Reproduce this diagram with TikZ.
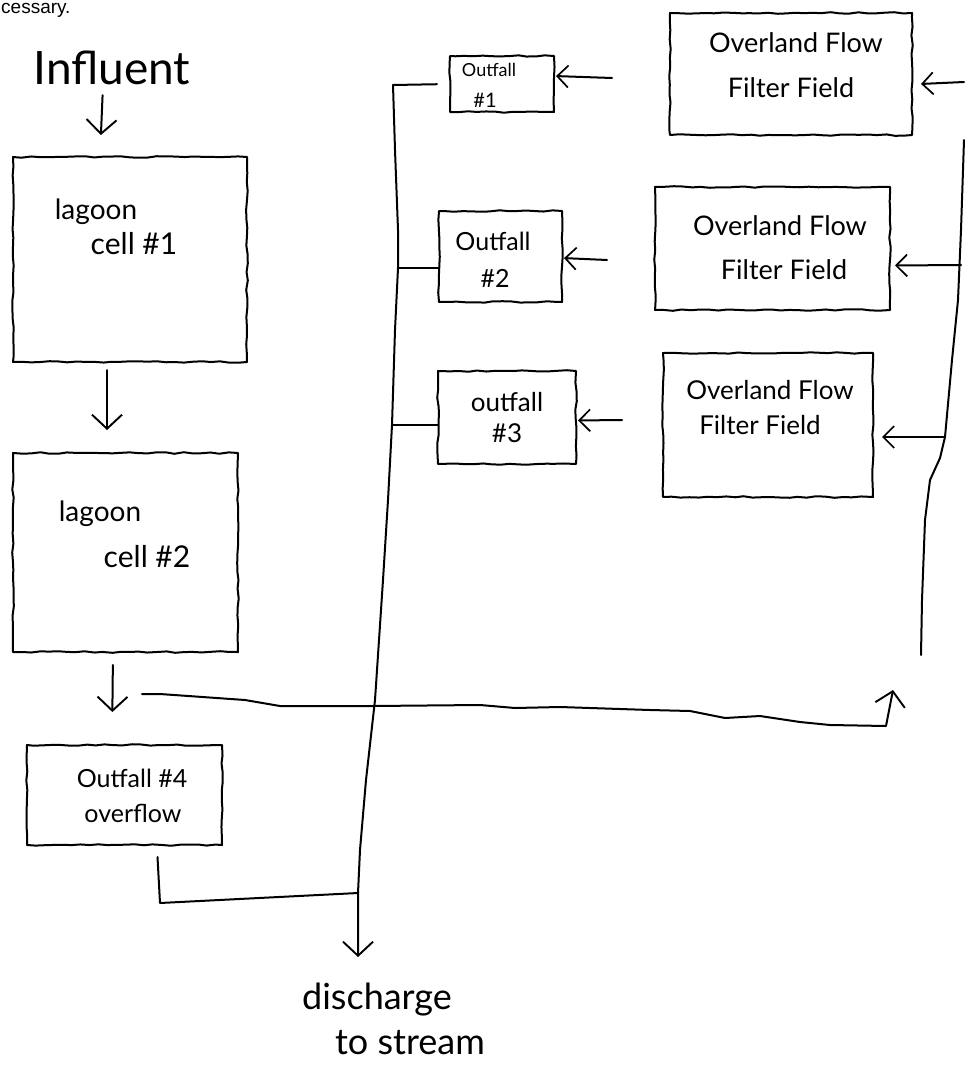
\documentclass[tikz,border=0pt]{standalone}
\usepackage{fontspec}
\setmainfont{Lato}
\setsansfont{Liberation Sans}
\usetikzlibrary{arrows.meta,decorations.pathmorphing}
\newcommand{\fsz}[1]{\fontsize{#1}{#1}\selectfont}
\begin{document}
\begin{tikzpicture}[x=1pt,y=-1pt,
  ink/.style={line width=2pt, line cap=round, line join=round, draw=black},
  box/.style={draw=black, line width=2pt, line join=round, rectangle, inner sep=0pt, outer sep=0pt, decorate, decoration={random steps, segment length=9pt, amplitude=0.8pt}},
  lbl/.style={inner sep=0pt, text=black},
  arr/.style={ink, -{Straight Barb[length=11pt, width=22pt, line width=1.7pt]}},
  bigarr/.style={ink, -{Straight Barb[length=14pt, width=30pt, line width=1.9pt]}},
]
\pgfmathsetseed{7}
\useasboundingbox (0,0) rectangle (964,1065);
\fill[white] (0,0) rectangle (964,1065);

% texts and boxes
\node[lbl, anchor=base west, font=\sffamily\fsz{19}] (cess) at (1,14) {cessary.};
\node[lbl, font=\fsz{46}] (infl) at (112,68) {Influent};

\node[box, minimum width=234pt, minimum height=205pt] (lag1) at (130,259.5) {};
\node[lbl, font=\fsz{28}] (lag1a) at (96,212) {lagoon};
\node[lbl, font=\fsz{30}] (lag1b) at (134,244) {cell \#1};

\node[box, minimum width=225pt, minimum height=199pt] (lag2) at (125.5,552.5) {};
\node[lbl, font=\fsz{28}] (lag2a) at (100,514) {lagoon};
\node[lbl, font=\fsz{30}] (lag2b) at (147,557) {cell \#2};

\node[box, minimum width=195pt, minimum height=100pt] (of4) at (124.5,795) {};
\node[lbl, font=\fsz{25}] (of4a) at (132,778) {Outfall \#4};
\node[lbl, font=\fsz{25}] (of4b) at (133,813) {overflow};

\node[box, minimum width=104pt, minimum height=56pt] (of1) at (502,84) {};
\node[lbl, font=\fsz{18}] (of1a) at (489,70) {Outfall};
\node[lbl, font=\fsz{20}] (of1b) at (485,100) {\#1};

\node[box, minimum width=123pt, minimum height=91pt] (of2) at (500.5,256.5) {};
\node[lbl, font=\fsz{25}] (of2a) at (493,241) {Outfall};
\node[lbl, font=\fsz{25}] (of2b) at (495,278) {\#2};

\node[box, minimum width=138pt, minimum height=93pt] (of3) at (507,417.5) {};
\node[lbl, font=\fsz{26}] (of3a) at (507,402) {outfall};
\node[lbl, font=\fsz{26}] (of3b) at (507,433) {\#3};

\node[box, minimum width=242pt, minimum height=122pt] (ff1) at (791,74) {};
\node[lbl, font=\fsz{27}] (ff1a) at (796,43) {Overland Flow};
\node[lbl, font=\fsz{27}] (ff1b) at (791,88) {Filter Field};

\node[box, minimum width=235pt, minimum height=123pt] (ff2) at (772.5,248.5) {};
\node[lbl, font=\fsz{27}] (ff2a) at (780,226) {Overland Flow};
\node[lbl, font=\fsz{27}] (ff2b) at (784,270) {Filter Field};

\node[box, minimum width=210pt, minimum height=144pt] (ff3) at (768,425) {};
\node[lbl, font=\fsz{26}] (ff3a) at (770,390) {Overland Flow};
\node[lbl, font=\fsz{26}] (ff3b) at (760,425) {Filter Field};

\node[lbl, font=\fsz{36}] (disA) at (377,1000) {discharge};
\node[lbl, font=\fsz{36}] (disB) at (410,1043) {to stream};

% main chain
\draw[bigarr, shorten <=10pt, shorten >=22pt] ([xshift=-9pt]infl.south) -- ([xshift=-30pt]lag1.north);
\draw[bigarr, shorten <=8pt, shorten >=23pt] ([xshift=-23pt]lag1.south) -- ([xshift=-18.5pt]lag2.north);
\draw[bigarr, shorten <=13pt, shorten >=33pt] ([xshift=-12.5pt]lag2.south) -- ([xshift=-12.5pt]of4.north);

% return line to the filter fields
\coordinate (ret0) at (142,694);
\coordinate (ret1) at (893,690);
\draw[bigarr] (ret0) -- (160,694) -- (245,700) -- (280,706) -- (373,706) -- (480,705)
  -- (515,708) -- (560,707) -- (650,710) -- (690,711) -- (725,718) -- (760,716)
  -- (800,722) -- (830,725) -- (886,726) -- (ret1);

% right supply line
\coordinate (rv0) at (921,655);
\coordinate (rvt) at (964,140);
\draw[ink] (rv0) -- (922,600) -- (925,520) -- (930,480) -- (940,458) -- (945,437)
  -- (952,360) -- (958,300) -- (961,230) -- (rvt);

\coordinate (v1) at (964,82);
\coordinate (v2) at (961,265);
\coordinate (v3) at (945,437);
\draw[arr, shorten >=1pt] (v1) -- ([xshift=8pt, yshift=-10pt]ff1.east);
\draw[arr, shorten >=1pt] (v2) -- ([xshift=4pt, yshift=-17pt]ff2.east);
\draw[arr, shorten >=1pt] (v3) -- ([xshift=8pt, yshift=-12pt]ff3.east);

% filter fields to outfalls
\coordinate (f1) at (612,78);
\coordinate (f2) at (607,260);
\coordinate (f3) at (622,420);
\draw[arr, shorten >=2pt] (f1) -- ([yshift=8pt]of1.east);
\draw[arr, shorten >=2pt] (f2) -- ([yshift=-1.5pt]of2.east);
\draw[arr, shorten >=2pt] (f3) -- ([yshift=-3pt]of3.east);

% collector to stream
\coordinate (cTop) at (393,85);
\coordinate (c2) at (398,268);
\coordinate (c3) at (392,425);
\coordinate (cJ) at (358,893);
\coordinate (dTip) at (358,957);
\draw[ink, shorten >=13pt] (cTop) -- (of1.west);
\draw[ink] (c2) -- ([yshift=-11.5pt]of2.west);
\draw[ink] (c3) -- ([yshift=-7.5pt]of3.west);
\draw[bigarr] (cTop) -- (395,150) -- (398,230) -- (c2) -- (395,330) -- (c3)
  -- (388,500) -- (383,580) -- (375,700) -- (366,780) -- (360,850) -- (cJ) -- (dTip);
\draw[ink] ([xshift=33pt, yshift=-12pt]of4.south) -- (160,903) -- (cJ);
\end{tikzpicture}
\end{document}
